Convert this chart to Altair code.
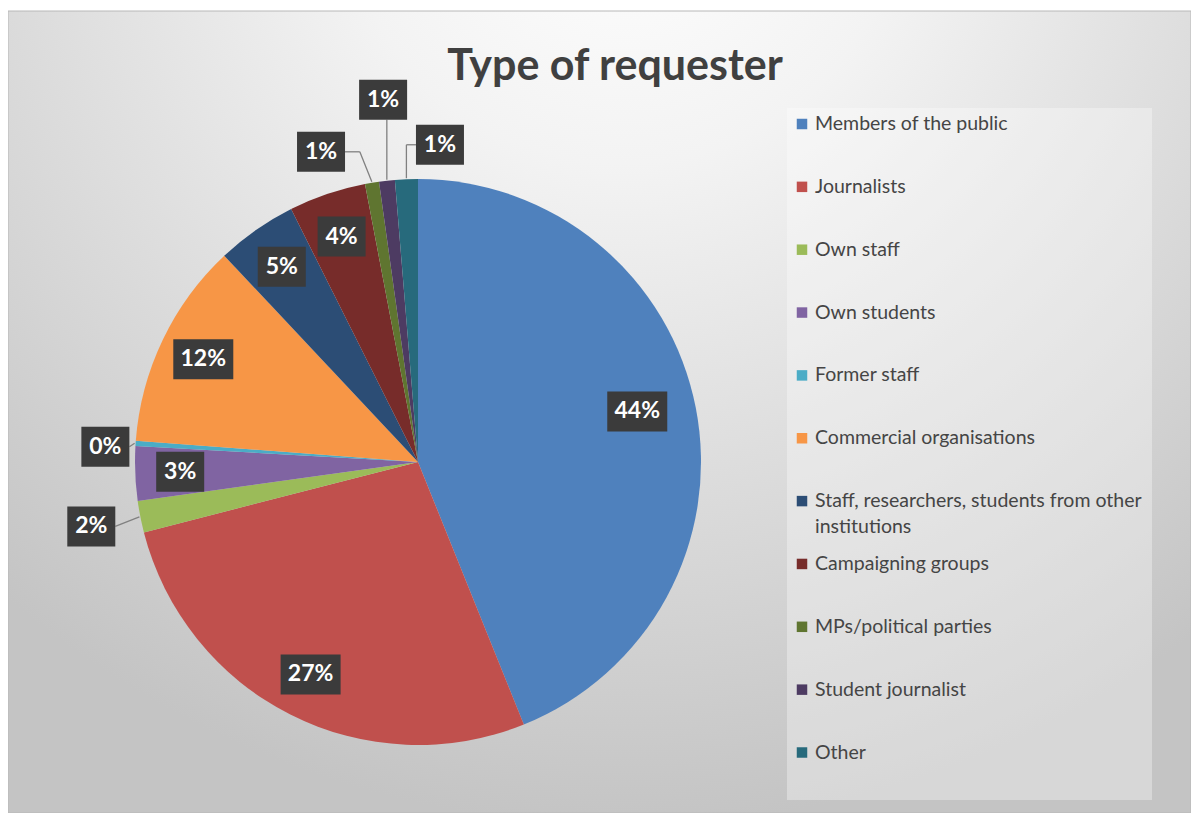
import math
import altair as alt
import pandas as pd

# ---------------- data ----------------
categories = [
    "Members of the public",
    "Journalists",
    "Own staff",
    "Own students",
    "Former staff",
    "Commercial organisations",
    "Staff, researchers, students from other institutions",
    "Campaigning groups",
    "MPs/political parties",
    "Student journalist",
    "Other",
]
values = [43.9, 27.1, 1.8, 3.1, 0.3, 11.8, 4.6, 4.4, 0.8, 0.9, 1.3]
colors = ["#4F81BD", "#C0504D", "#9BBB59", "#8064A2", "#4BACC6", "#F79646",
          "#2C4D75", "#772C2A", "#5F7530", "#4D3B62", "#276A7C"]
legend_lines = [
    ["Members of the public"],
    ["Journalists"],
    ["Own staff"],
    ["Own students"],
    ["Former staff"],
    ["Commercial organisations"],
    ["Staff, researchers, students from other", "institutions"],
    ["Campaigning groups"],
    ["MPs/political parties"],
    ["Student journalist"],
    ["Other"],
]
title_text = "Type of requester"

# ---------------- layout ----------------
W, H = 1183, 805
CX, CY, R = 410, 454, 283
FONT = "Lato"
# per-label placement: (angle offset in degrees, radius in px, leader style)
label_layout = {
    "Members of the public": (-2, 225, None),
    "Own staff": (0, 333, "straight"),
    "Former staff": (-1, 313, "straight"),
    "MPs/political parties": (-8, 325, "elbow"),
    "Student journalist": (0.8, 364, "vertical"),
    "Other": (6.3, 318, "elbow"),
}
default_layout = (0, 238, None)
LEG_X, LEG_Y0, LEG_DY, LEG_LH = 794, 116, 62.85, 26


def polar(angle_deg, r):
    a = math.radians(angle_deg)
    return CX + r * math.sin(a), CY - r * math.cos(a)


total = sum(values)
pie_rows, label_rows, leader_rows = [], [], []
cum = 0.0
for i, (cat, val) in enumerate(zip(categories, values)):
    mid = (cum + val / 2) / total * 360
    cum += val
    txt = f"{round(val / total * 100)}%"
    pie_rows.append({"category": cat, "value": val, "order": i})
    off, rad, leader = label_layout.get(cat, default_layout)
    lx, ly = polar(mid + off, rad)
    hw = 24 if len(txt) == 2 else 30
    hh = 20
    label_rows.append({"category": cat, "text": txt, "x": lx, "y": ly,
                       "bx1": lx - hw, "bx2": lx + hw, "by1": ly - hh, "by2": ly + hh})
    if leader:
        ex, ey = polar(mid, R + 1)
        left = lx < ex
        if leader == "straight":
            ax = lx + hw if left else lx - hw
            segs = [((ex, ey), (ax, ly))]
        elif leader == "vertical":
            segs = [((ex, ey), (ex, ly + hh))]
        else:
            ax = lx + hw if left else lx - hw
            elx = ex - 12 if left else ex
            segs = [((ex, ey), (elx, ly)), ((elx, ly), (ax, ly))]
        for (x1, y1), (x2, y2) in segs:
            leader_rows.append({"x": x1, "y": y1, "x2": x2, "y2": y2})

pie_df = pd.DataFrame(pie_rows)
label_df = pd.DataFrame(label_rows)
leader_df = pd.DataFrame(leader_rows)

leg_sq, leg_txt = [], []
for i, (cat, lines) in enumerate(zip(categories, legend_lines)):
    ry = LEG_Y0 + LEG_DY * i
    leg_sq.append({"category": cat, "x": LEG_X, "y": ry})
    for k, line in enumerate(lines):
        leg_txt.append({"text": line, "x": LEG_X + 13, "y": ry + k * LEG_LH})
leg_sq_df = pd.DataFrame(leg_sq)
leg_txt_df = pd.DataFrame(leg_txt)
one = pd.DataFrame({"title": [title_text]})

xs = alt.Scale(domain=[0, W], range=[0, W], nice=False, zero=False)
ys = alt.Scale(domain=[0, H], range=[0, H], nice=False, zero=False)


def X(f):
    return alt.X(f, type="quantitative", scale=xs, axis=None)


def Y(f):
    return alt.Y(f, type="quantitative", scale=ys, axis=None)


color_enc = alt.Color("category:N", scale=alt.Scale(domain=categories, range=colors), legend=None)

background = alt.Chart(one).mark_rect(
    fill=alt.RadialGradient(
        gradient="radial",
        stops=[alt.GradientStop(color="#ffffff", offset=0),
               alt.GradientStop(color="#f3f3f3", offset=0.3),
               alt.GradientStop(color="#c4c4c4", offset=1)],
        x1=0.52, y1=0.05, r1=0, x2=0.52, y2=0.05, r2=0.8),
    stroke="#b8b8b8", strokeWidth=1,
).encode(x=alt.value(0), x2=alt.value(W), y=alt.value(3), y2=alt.value(H))

legend_box = alt.Chart(one).mark_rect(fill="#ffffff", opacity=0.33).encode(
    x=alt.value(779), x2=alt.value(1144), y=alt.value(100), y2=alt.value(792))

pie = alt.Chart(pie_df).mark_arc(outerRadius=R).encode(
    theta=alt.Theta("value:Q", stack=True),
    order=alt.Order("order:Q"),
    color=color_enc,
    x=alt.value(CX), y=alt.value(CY),
)

leaders = alt.Chart(leader_df).mark_rule(color="#808080", strokeWidth=1.3).encode(
    x=X("x"), y=Y("y"), x2="x2", y2="y2")

boxes = alt.Chart(label_df).mark_rect(fill="#3b3b3b").encode(
    x=X("bx1"), x2="bx2", y=Y("by1"), y2="by2")

labels = alt.Chart(label_df).mark_text(
    font=FONT, fontSize=23, fontWeight="bold", color="#ffffff", align="center", baseline="middle"
).encode(x=X("x"), y=Y("y"), text="text:N")

leg_squares = alt.Chart(leg_sq_df).mark_square(size=110, opacity=1).encode(
    x=X("x"), y=Y("y"), color=color_enc)

leg_texts = alt.Chart(leg_txt_df).mark_text(
    font=FONT, fontSize=19.5, color="#454545", align="left", baseline="middle"
).encode(x=X("x"), y=Y("y"), text="text:N")

title = alt.Chart(one).mark_text(
    font=FONT, fontSize=43, fontWeight="bold", color="#404040", align="center", baseline="alphabetic"
).encode(x=alt.value(607), y=alt.value(72), text="title:N")

chart = alt.layer(
    background, legend_box, pie, leaders, boxes, labels, leg_squares, leg_texts, title
).properties(
    width=W, height=H, padding=0, autosize=alt.AutoSizeParams(type="none")
).configure_view(stroke=None)

chart.save("out.html", embed_options={"renderer": "svg", "actions": False})
